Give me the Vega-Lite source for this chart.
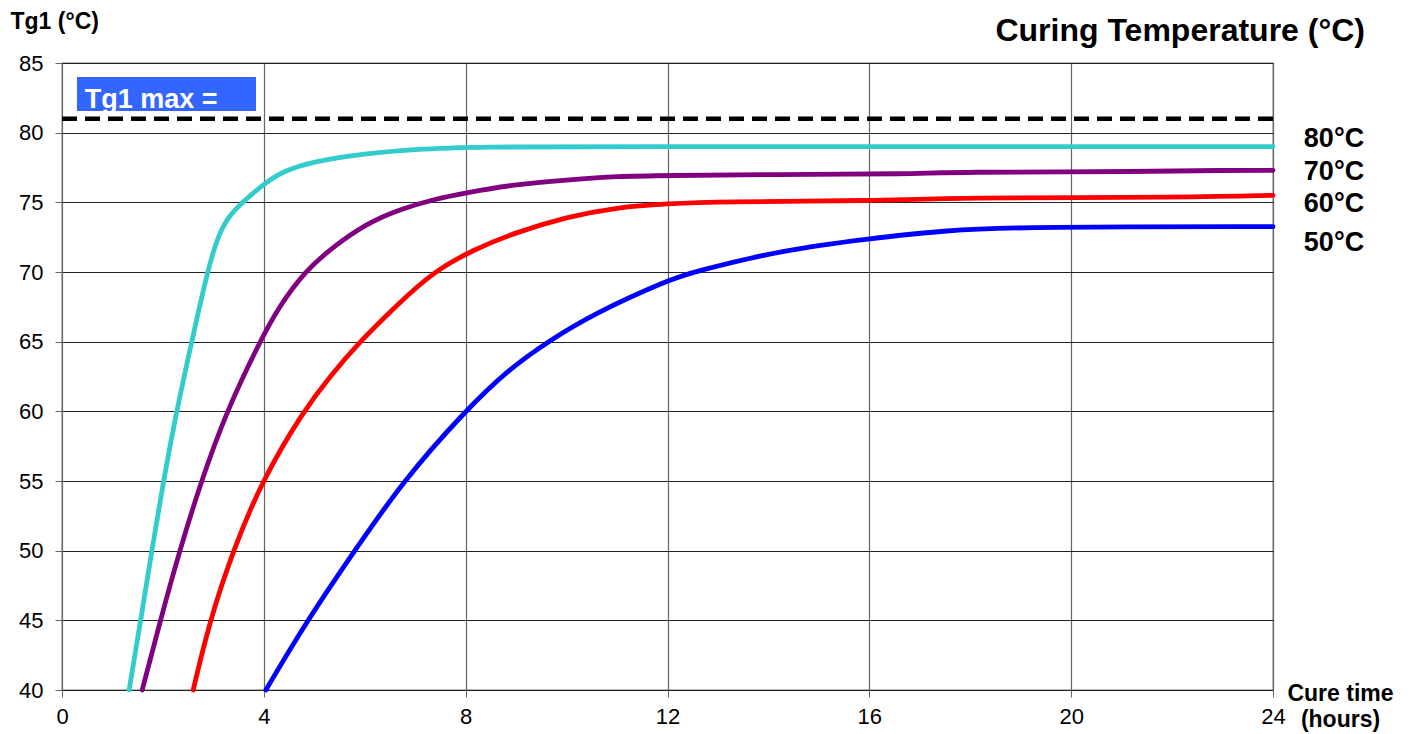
{
  "$schema": "https://vega.github.io/schema/vega-lite/v6.json",
  "width": 1211,
  "height": 627,
  "autosize": {"type": "none"},
  "padding": {"left": 62, "top": 63, "right": 140, "bottom": 44},
  "background": "white",
  "config": {
    "font": "Liberation Sans",
    "view": {"stroke": "#777", "strokeWidth": 1.3},
    "axis": {
      "labelFontSize": 22,
      "labelColor": "black",
      "labelFont": "Liberation Sans",
      "labelFlush": false,
      "tickColor": "#666",
      "tickSize": 7,
      "domain": false,
      "gridWidth": 1.2,
      "titleColor": "black",
      "titleFont": "Liberation Sans"
    }
  },
  "title": {
    "text": "Curing Temperature (°C)",
    "anchor": "end",
    "frame": "group",
    "dx": 92,
    "offset": -63,
    "baseline": "alphabetic",
    "fontSize": 32,
    "fontWeight": "bold",
    "color": "black",
    "font": "Liberation Sans"
  },
  "datasets": {
    "curves": [
      {"series": "80°C", "hours": 1.33, "tg": 40},
      {"series": "80°C", "hours": 1.56, "tg": 45},
      {"series": "80°C", "hours": 1.78, "tg": 50},
      {"series": "80°C", "hours": 2.01, "tg": 55},
      {"series": "80°C", "hours": 2.27, "tg": 60},
      {"series": "80°C", "hours": 2.57, "tg": 65},
      {"series": "80°C", "hours": 2.88, "tg": 70},
      {"series": "80°C", "hours": 3.08, "tg": 72.5},
      {"series": "80°C", "hours": 3.3, "tg": 74},
      {"series": "80°C", "hours": 3.6, "tg": 75.1},
      {"series": "80°C", "hours": 4.0, "tg": 76.3},
      {"series": "80°C", "hours": 4.35, "tg": 77.2},
      {"series": "80°C", "hours": 5.0, "tg": 77.95},
      {"series": "80°C", "hours": 6.0, "tg": 78.5},
      {"series": "80°C", "hours": 7.0, "tg": 78.8},
      {"series": "80°C", "hours": 8.0, "tg": 79.0},
      {"series": "80°C", "hours": 12.0, "tg": 79.0},
      {"series": "80°C", "hours": 16.0, "tg": 79.0},
      {"series": "80°C", "hours": 24.0, "tg": 79.0},
      {"series": "70°C", "hours": 1.59, "tg": 40},
      {"series": "70°C", "hours": 1.95, "tg": 45},
      {"series": "70°C", "hours": 2.33, "tg": 50},
      {"series": "70°C", "hours": 2.76, "tg": 55},
      {"series": "70°C", "hours": 3.26, "tg": 60},
      {"series": "70°C", "hours": 3.92, "tg": 65},
      {"series": "70°C", "hours": 4.3, "tg": 67.5},
      {"series": "70°C", "hours": 4.8, "tg": 70},
      {"series": "70°C", "hours": 5.37, "tg": 71.8},
      {"series": "70°C", "hours": 6.04, "tg": 73.5},
      {"series": "70°C", "hours": 6.7, "tg": 74.5},
      {"series": "70°C", "hours": 7.35, "tg": 75.2},
      {"series": "70°C", "hours": 8.02, "tg": 75.7},
      {"series": "70°C", "hours": 9.0, "tg": 76.3},
      {"series": "70°C", "hours": 10.0, "tg": 76.6},
      {"series": "70°C", "hours": 11.0, "tg": 76.88},
      {"series": "70°C", "hours": 12.0, "tg": 76.92},
      {"series": "70°C", "hours": 14.0, "tg": 77.0},
      {"series": "70°C", "hours": 16.9, "tg": 77.03},
      {"series": "70°C", "hours": 17.6, "tg": 77.18},
      {"series": "70°C", "hours": 21.6, "tg": 77.2},
      {"series": "70°C", "hours": 23.0, "tg": 77.3},
      {"series": "70°C", "hours": 24.0, "tg": 77.3},
      {"series": "60°C", "hours": 2.6, "tg": 40},
      {"series": "60°C", "hours": 2.93, "tg": 45},
      {"series": "60°C", "hours": 3.39, "tg": 50},
      {"series": "60°C", "hours": 3.96, "tg": 55},
      {"series": "60°C", "hours": 4.78, "tg": 60},
      {"series": "60°C", "hours": 5.31, "tg": 62.5},
      {"series": "60°C", "hours": 5.9, "tg": 65},
      {"series": "60°C", "hours": 6.63, "tg": 67.6},
      {"series": "60°C", "hours": 7.35, "tg": 70},
      {"series": "60°C", "hours": 8.15, "tg": 71.6},
      {"series": "60°C", "hours": 9.0, "tg": 72.85},
      {"series": "60°C", "hours": 10.0, "tg": 73.95},
      {"series": "60°C", "hours": 11.0, "tg": 74.65},
      {"series": "60°C", "hours": 12.0, "tg": 74.9},
      {"series": "60°C", "hours": 13.0, "tg": 75.05},
      {"series": "60°C", "hours": 16.2, "tg": 75.1},
      {"series": "60°C", "hours": 17.6, "tg": 75.33},
      {"series": "60°C", "hours": 22.4, "tg": 75.36},
      {"series": "60°C", "hours": 24.0, "tg": 75.5},
      {"series": "50°C", "hours": 4.04, "tg": 40},
      {"series": "50°C", "hours": 4.86, "tg": 45},
      {"series": "50°C", "hours": 5.8, "tg": 50},
      {"series": "50°C", "hours": 6.76, "tg": 55},
      {"series": "50°C", "hours": 7.98, "tg": 60},
      {"series": "50°C", "hours": 8.88, "tg": 63.1},
      {"series": "50°C", "hours": 9.63, "tg": 65.0},
      {"series": "50°C", "hours": 10.53, "tg": 67.0},
      {"series": "50°C", "hours": 12.0, "tg": 69.4},
      {"series": "50°C", "hours": 12.5, "tg": 70.0},
      {"series": "50°C", "hours": 14.3, "tg": 71.6},
      {"series": "50°C", "hours": 16.0, "tg": 72.4},
      {"series": "50°C", "hours": 17.5, "tg": 73.0},
      {"series": "50°C", "hours": 19.2, "tg": 73.25},
      {"series": "50°C", "hours": 24.0, "tg": 73.25}
    ],
    "labels": [
      {"series": "80°C", "hours": 24, "tg": 78.97},
      {"series": "70°C", "hours": 24, "tg": 76.6},
      {"series": "60°C", "hours": 24, "tg": 74.3},
      {"series": "50°C", "hours": 24, "tg": 71.5}
    ]
  },
  "layer": [
    {
      "data": {"name": "curves"},
      "mark": {"type": "line", "strokeWidth": 4.8, "interpolate": "basis", "strokeCap": "round"},
      "encoding": {
        "x": {
          "field": "hours",
          "type": "quantitative",
          "scale": {"domain": [0, 24], "nice": false, "zero": false},
          "axis": {
            "values": [0, 4, 8, 12, 16, 20, 24],
            "labelPadding": 9,
            "gridColor": "#666",
            "title": ["Cure time", "(hours)"],
            "titleFontSize": 23,
            "titleFontWeight": "bold",
            "titleLineHeight": 26,
            "titleX": 1278,
            "titleY": 10,
            "titleAlign": "center",
            "titleBaseline": "alphabetic"
          }
        },
        "y": {
          "field": "tg",
          "type": "quantitative",
          "scale": {"domain": [40, 85], "nice": false, "zero": false},
          "axis": {
            "values": [40, 45, 50, 55, 60, 65, 70, 75, 80, 85],
            "labelPadding": 12,
            "gridColor": "#222",
            "title": "Tg1 (°C)",
            "titleFontSize": 23,
            "titleFontWeight": "bold",
            "titleAngle": 0,
            "titleAlign": "left",
            "titleBaseline": "alphabetic",
            "titleX": -52,
            "titleY": -35
          }
        },
        "color": {
          "field": "series",
          "type": "nominal",
          "scale": {"domain": ["80°C", "70°C", "60°C", "50°C"], "range": ["#33CCCC", "#800080", "#FF0000", "#0000FF"]},
          "legend": null
        },
        "detail": {"field": "series"}
      }
    },
    {
      "data": {"values": [{"label": "Tg1 max"}]},
      "mark": {"type": "rule", "strokeWidth": 4.5, "strokeDash": [15, 8], "color": "black"},
      "encoding": {"y": {"datum": 81, "type": "quantitative"}}
    },
    {
      "data": {"values": [{"label": "Tg1 max"}]},
      "mark": {"type": "rect", "color": "#3366FF"},
      "encoding": {
        "x": {"datum": 0.297, "type": "quantitative"},
        "x2": {"datum": 3.845},
        "y": {"datum": 84.0, "type": "quantitative"},
        "y2": {"datum": 81.55}
      }
    },
    {
      "data": {"values": [{"label": "Tg1 max ="}]},
      "mark": {"type": "text", "color": "white", "fontSize": 27, "fontWeight": "bold", "align": "left", "baseline": "alphabetic"},
      "encoding": {
        "x": {"datum": 0.45, "type": "quantitative"},
        "y": {"datum": 81.77, "type": "quantitative"},
        "text": {"field": "label"}
      }
    },
    {
      "data": {"name": "labels"},
      "mark": {"type": "text", "fontSize": 27, "fontWeight": "bold", "color": "black", "align": "center", "baseline": "alphabetic", "dx": 61, "clip": false},
      "encoding": {
        "x": {"field": "hours", "type": "quantitative"},
        "y": {"field": "tg", "type": "quantitative"},
        "text": {"field": "series"}
      }
    }
  ]
}
